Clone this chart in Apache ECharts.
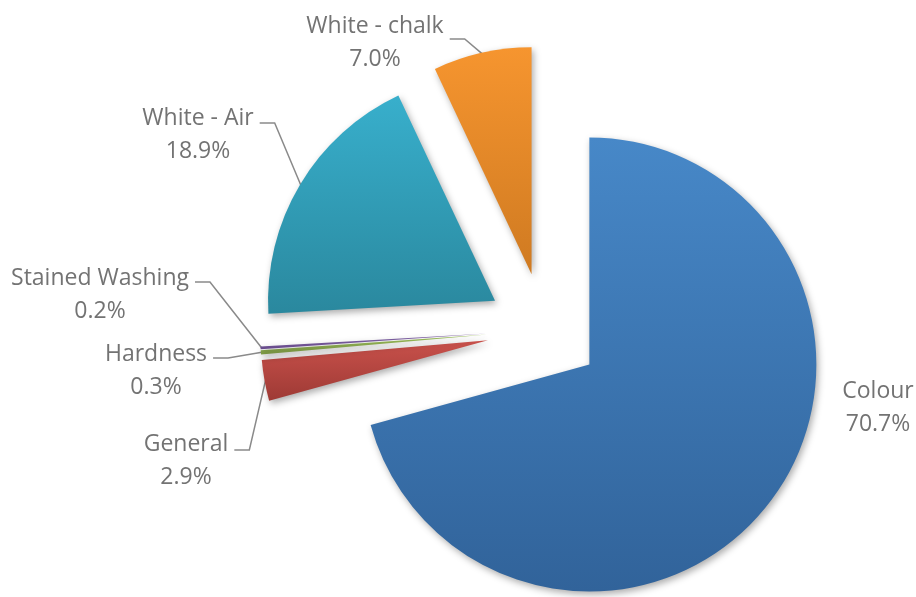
<!DOCTYPE html>
<html>
<head>
<meta charset="utf-8">
<script src="https://cdn.jsdelivr.net/npm/echarts@6/dist/echarts.min.js"></script>
<style>
  html, body { margin: 0; padding: 0; background: #ffffff; }
  #chart { width: 916px; height: 597px; }
</style>
</head>
<body>
<div id="chart"></div>
<script>
// Categories and their shares (percent), clockwise from 12 o'clock
const categories = ['Colour', 'General', 'Hardness', 'Stained Washing', 'White - Air', 'White - chalk'];
const shares = [70.7, 2.9, 0.3, 0.2, 18.9, 7.0];

// Gradient colours per slice: [top, bottom]
const sliceColors = [
  ['#4788c8', '#31639a'],
  ['#c9514b', '#9e3a35'],
  ['#9fc25c', '#7f9c45'],
  ['#8567a8', '#65498a'],
  ['#38afcc', '#2a889e'],
  ['#f6952f', '#cf7a21']
];

// Pie geometry
const pieCenter = [544, 330];
const pieRadius = 227;
const explodeOffset = 57;

// Label block centres and the vertical offset of each leader-line stub
const labelAnchors = [
  [878, 408],
  [186, 461],
  [156, 371],
  [100, 295],
  [198, 135],
  [375, 43]
];
const stubDy = [0, -11, -13, -13, -12, -4];
const showLeader = [false, true, true, true, true, true];

const total = shares.reduce((s, v) => s + v, 0);

// Point on the outer arc of an exploded slice, at the middle of its angle
function arcMidPoint(i) {
  let before = 0;
  for (let k = 0; k < i; k++) before += shares[k];
  const ang = (before + shares[i] / 2) / total * Math.PI * 2;
  const dx = Math.sin(ang), dy = -Math.cos(ang);
  const d = explodeOffset + pieRadius - 1;
  return [pieCenter[0] + dx * d, pieCenter[1] + dy * d];
}

const chart = echarts.init(document.getElementById('chart'), null, { renderer: 'canvas' });

const sliceData = categories.map((name, i) => ({
  name: name,
  value: shares[i],
  selected: true,
  itemStyle: {
    color: new echarts.graphic.LinearGradient(0, 0, 0, 1, [
      { offset: 0, color: sliceColors[i][0] },
      { offset: 1, color: sliceColors[i][1] }
    ])
  }
}));

const labelData = categories.map((name, i) => ({
  name: name,
  value: shares[i],
  labelLine: { show: showLeader[i] }
}));

chart.setOption({
  animation: false,
  backgroundColor: '#ffffff',
  series: [
    {
      // exploded slices
      type: 'pie',
      center: pieCenter,
      radius: pieRadius,
      startAngle: 90,
      clockwise: true,
      selectedMode: 'multiple',
      selectedOffset: explodeOffset,
      emphasis: { disabled: true },
      itemStyle: {
        shadowBlur: 7,
        shadowOffsetX: 2,
        shadowOffsetY: 3,
        shadowColor: 'rgba(0,0,0,0.33)'
      },
      label: { show: false },
      labelLine: { show: false },
      data: sliceData
    },
    {
      // category labels with leader lines
      type: 'pie',
      center: pieCenter,
      radius: pieRadius,
      startAngle: 90,
      clockwise: true,
      silent: true,
      selectedMode: false,
      avoidLabelOverlap: false,
      emphasis: { disabled: true },
      itemStyle: { color: 'rgba(0,0,0,0)' },
      label: {
        show: true,
        position: 'outside',
        fontFamily: 'Open Sans',
        fontSize: 23,
        lineHeight: 33,
        color: '#737373',
        align: 'center',
        formatter: p => p.name + '\n' + p.value.toFixed(1) + '%'
      },
      labelLine: {
        show: true,
        lineStyle: { color: '#8a8a8a', width: 1.5 }
      },
      labelLayout: function (params) {
        const i = params.dataIndex;
        const a = labelAnchors[i];
        const w = params.labelRect.width;
        const edgeX = a[0] + w / 2 + 6;
        const y = a[1] + stubDy[i];
        const end = arcMidPoint(i);
        return {
          x: a[0],
          y: a[1],
          align: 'center',
          verticalAlign: 'middle',
          labelLinePoints: [[edgeX, y], [edgeX + 15, y], end]
        };
      },
      data: labelData
    }
  ]
});
</script>
</body>
</html>
